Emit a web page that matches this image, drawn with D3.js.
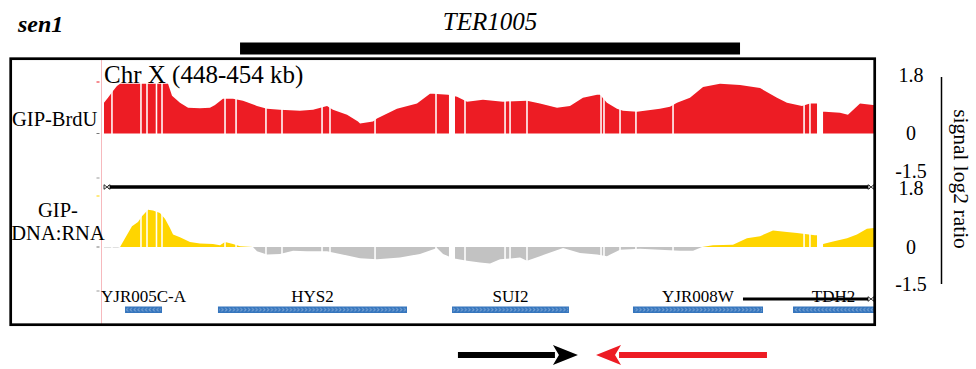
<!DOCTYPE html>
<html>
<head>
<meta charset="utf-8">
<script src="https://cdn.jsdelivr.net/npm/d3@7"></script>
<style>
  body { margin: 0; background: #fff; }
  svg { display: block; }
</style>
</head>
<body>
<svg id="chart" width="976" height="369"></svg>
<script>
// Genomic window (kb on chromosome X)
const windowKb = [448, 454];

// GIP-BrdU signal (log2 ratio) by position in kb
const brduPos = [448.000,448.031,448.070,448.101,448.125,448.499,448.530,448.592,448.655,448.748,448.826,448.865,448.927,449.005,449.083,449.192,449.270,449.371,449.527,449.629,449.738,449.784,449.894,449.979,449.995,450.096,450.127,450.283,450.439,450.540,450.564,450.681,450.751,450.829,450.953,451.109,451.296,451.397,451.530,451.631,451.732,451.842,451.865,451.919,451.997,452.044,452.153,452.332,452.410,452.465,452.566,452.668,452.800,452.956,453.112,453.244,453.322,453.439,453.501,453.556,453.603,453.618,453.735,453.797,453.891,453.992,454.000];
const brduVal = [0.95,1.10,1.31,1.46,1.53,1.53,1.16,0.95,0.79,0.78,0.79,0.88,1.07,1.07,1.01,0.85,0.76,0.73,0.70,0.73,0.85,0.73,0.58,0.37,0.31,0.37,0.46,0.76,0.92,1.22,1.22,1.19,1.13,0.98,1.04,0.98,1.01,0.92,0.79,0.85,1.10,1.19,1.19,0.95,0.76,0.70,0.67,0.76,0.82,0.95,1.10,1.43,1.53,1.49,1.40,1.10,0.95,0.85,0.92,0.92,0.67,0.67,0.64,0.58,0.92,0.88,0.88];

// GIP-DNA:RNA signal (log2 ratio) by position in kb
const rnaPos = [448.000,448.109,448.125,448.164,448.218,448.265,448.296,448.343,448.382,448.436,448.475,448.514,448.538,448.592,448.670,448.748,448.849,448.904,448.943,449.005,449.060,449.161,449.192,449.270,449.371,449.473,449.582,449.738,449.839,449.995,450.127,450.306,450.462,450.595,450.642,450.719,450.829,450.930,451.008,451.086,451.242,451.296,451.397,451.577,451.709,451.842,451.919,452.021,452.177,452.332,452.488,452.590,452.660,452.745,452.901,453.010,453.112,453.213,453.322,453.400,453.462,453.540,453.556,453.603,453.681,453.790,453.867,453.945,454.000];
const rnaVal = [-0.02,-0.02,0,0.27,0.63,0.76,0.94,1.14,1.11,1.04,0.86,0.58,0.38,0.30,0.15,0.11,0.09,0.05,0.15,0.09,0.02,0,-0.17,-0.30,-0.28,-0.15,-0.17,-0.17,-0.28,-0.46,-0.50,-0.43,-0.28,-0.04,-0.28,-0.46,-0.56,-0.63,-0.67,-0.50,-0.43,-0.56,-0.37,-0.04,-0.24,-0.30,-0.37,-0.11,-0.07,-0.11,-0.15,-0.15,0,0.05,0.07,0.27,0.33,0.50,0.46,0.43,0.40,0.36,0.36,0.09,0.17,0.27,0.38,0.56,0.58];

// Bins without data (kb intervals)
const missingBins = [[448.056,448.068],[448.282,448.294],[448.329,448.341],[448.403,448.415],[448.446,448.458],[448.937,448.949],[449.023,449.035],[449.256,449.268],[449.381,449.393],[449.693,449.705],[449.755,449.767],[450.106,450.118],[450.581,450.593],[450.688,450.735],[450.807,450.819],[451.119,451.131],[451.158,451.170],[451.290,451.302],[451.867,451.879],[451.890,451.902],[452.015,452.027],[452.139,452.151],[452.428,452.440],[453.449,453.461],[453.495,453.507],[453.556,453.603]];

// Gene annotation
const geneNames  = ["YJR005C-A", "HYS2", "SUI2", "YJR008W", "TDH2"];
const geneStart  = [448.164, 448.888, 450.712, 452.122, 453.369];
const geneEnd    = [448.452, 450.361, 451.623, 453.135, 454.300];
const geneStrand = ["-", "+", "+", "+", "-"];

// Termination zone and fork directions (kb)
const terName = "TER1005";
const terRegion = [449.060, 452.956];
const forkRight = [450.758, 451.693];
const forkLeft  = [453.166, 451.834];
const featureSpan = [452.979, 453.961];

// Track axis ticks
const tickValues = [1.8, 0, -1.5];
const tickLabels = ["1.8", "0", "-1.5"];

const serif = "'Liberation Serif', 'Times New Roman', Times, serif";
const RED = "#ed1c24", GOLD = "#ffd500", GREY = "#c2c2c2", BLUE = "#3575bd";

const svg = d3.select("#chart");
const x = d3.scaleLinear().domain(windowKb).range([104, 874]);
const yBrdu = d3.scaleLinear().domain([-1.5, 0, 1.8]).range([171, 133.5, 75]);
const yRna  = d3.scaleLinear().domain([-1.5, 0, 1.8]).range([284, 247, 188]);

// ---- header ----
svg.append("text").attr("x", 18).attr("y", 32)
  .attr("font-family", serif).attr("font-size", 24)
  .attr("font-weight", "bold").attr("font-style", "italic").text("sen1");

svg.append("text").attr("x", (x(terRegion[0]) + x(terRegion[1])) / 2).attr("y", 30)
  .attr("text-anchor", "middle").attr("font-family", serif)
  .attr("font-size", 25).attr("font-style", "italic").text(terName);

svg.append("rect").attr("x", x(terRegion[0])).attr("y", 42.5)
  .attr("width", x(terRegion[1]) - x(terRegion[0])).attr("height", 12).attr("fill", "#000");

// ---- frame ----
svg.append("line").attr("x1", 101.5).attr("x2", 101.5).attr("y1", 59).attr("y2", 324)
  .attr("stroke", "#f6b9bd").attr("stroke-width", 1);

// ---- BrdU track ----
const brdu = brduPos.map((p, i) => ({ p, v: brduVal[i] }));
svg.append("path").datum(brdu)
  .attr("fill", RED)
  .attr("d", d3.area().x(d => x(d.p)).y0(yBrdu(0)).y1(d => yBrdu(d.v)));

// ---- DNA:RNA track (gold above zero, grey below) ----
const rna = rnaPos.map((p, i) => ({ p, v: rnaVal[i] }));
svg.append("path").datum(rna).attr("fill", GREY)
  .attr("d", d3.area().x(d => x(d.p)).y0(yRna(0)).y1(d => yRna(Math.min(0, d.v))));
svg.append("path").datum(rna).attr("fill", GOLD)
  .attr("d", d3.area().x(d => x(d.p)).y0(yRna(0)).y1(d => yRna(Math.max(0, d.v))));

// empty bins punch through both tracks
const gapG = svg.append("g").attr("fill", "#fff");
[[72, 134.5], [192, 272]].forEach(([top, bot]) => {
  gapG.selectAll(null).data(missingBins).join("rect")
    .attr("x", d => x(d[0])).attr("width", d => x(d[1]) - x(d[0]))
    .attr("y", top).attr("height", bot - top);
});

// small data-range ticks at the left edge of each track
const leftTicks = svg.append("g");
[[yBrdu(1.8) + 7, RED], [yBrdu(0), "#777"], [yRna(1.8) - 10, "#999"], [yRna(1.8) + 8, GOLD], [yRna(0), "#777"], [yRna(-1.5) + 7, "#999"]]
  .forEach(([yy, c]) => leftTicks.append("line").attr("x1", 96.5).attr("x2", 99.5)
    .attr("y1", yy).attr("y2", yy).attr("stroke", c).attr("stroke-width", 1));

// end glyph for long spans
function endGlyph(cx, cy) {
  const g = svg.append("g").attr("fill", "#fff").attr("stroke", "#000").attr("stroke-width", 0.8);
  g.append("path").attr("d", `M${cx - 3},${cy - 2.3}L${cx},${cy}L${cx - 3},${cy + 2.3}Z`);
  g.append("path").attr("d", `M${cx + 3},${cy - 2.3}L${cx},${cy}L${cx + 3},${cy + 2.3}Z`);
}

// separator span between the tracks
svg.append("line").attr("x1", x(windowKb[0]) + 4).attr("x2", x(windowKb[1]) - 4)
  .attr("y1", 187).attr("y2", 187).attr("stroke", "#000").attr("stroke-width", 3.5);
endGlyph(x(windowKb[0]) + 3, 187);
endGlyph(x(windowKb[1]) - 3, 187);

// ---- genes ----
const defs = svg.append("defs");
const barY = 306.5, barH = 6.5;
[["chev-plus", "M1.1,1.5L2.7,3.25L1.1,5"], ["chev-minus", "M2.7,1.5L1.1,3.25L2.7,5"]].forEach(([id, d]) => {
  const p = defs.append("pattern").attr("id", id).attr("patternUnits", "userSpaceOnUse")
    .attr("x", 0).attr("y", barY).attr("width", 3.8).attr("height", barH);
  p.append("path").attr("d", d).attr("fill", "none").attr("stroke", "#dfeaf7").attr("stroke-width", 0.6);
});
defs.append("clipPath").attr("id", "view").append("rect")
  .attr("x", x(windowKb[0])).attr("y", 0).attr("width", x(windowKb[1]) - x(windowKb[0])).attr("height", 369);

const genes = geneNames.map((n, i) => ({ n, s: geneStart[i], e: geneEnd[i], strand: geneStrand[i] }));
const geneG = svg.append("g").attr("clip-path", "url(#view)");
geneG.selectAll("rect.bar").data(genes).join("rect").attr("class", "bar")
  .attr("x", d => x(d.s)).attr("width", d => x(d.e) - x(d.s))
  .attr("y", barY).attr("height", barH).attr("fill", BLUE);
geneG.selectAll("rect.chev").data(genes).join("rect").attr("class", "chev")
  .attr("x", d => x(d.s) + 1).attr("width", d => x(d.e) - x(d.s) - 2)
  .attr("y", barY).attr("height", barH)
  .attr("fill", d => d.strand === "+" ? "url(#chev-plus)" : "url(#chev-minus)");

svg.selectAll("text.gene").data(genes).join("text").attr("class", "gene")
  .attr("x", d => (x(d.s) + x(Math.min(d.e, windowKb[1]))) / 2)
  .attr("y", 302).attr("text-anchor", "middle")
  .attr("font-family", serif).attr("font-size", 17).text(d => d.n);

// feature span drawn across the gene row
svg.append("line").attr("x1", x(featureSpan[0])).attr("x2", x(featureSpan[1]))
  .attr("y1", 299).attr("y2", 299).attr("stroke", "#000").attr("stroke-width", 3);
endGlyph(x(windowKb[1]) - 3, 299);

// ---- frame border ----
svg.append("rect").attr("x", 10.7).attr("y", 58.7).attr("width", 864).attr("height", 266)
  .attr("fill", "none").attr("stroke", "#000").attr("stroke-width", 2.7);

// ---- track labels ----
svg.append("text").attr("x", 104).attr("y", 83)
  .attr("font-family", serif).attr("font-size", 25).text("Chr X (448-454 kb)");
svg.append("text").attr("x", 12).attr("y", 126)
  .attr("font-family", serif).attr("font-size", 20.5).text("GIP-BrdU");
const lab2 = svg.append("text").attr("font-family", serif).attr("font-size", 20.5).attr("text-anchor", "middle");
lab2.append("tspan").attr("x", 58).attr("y", 217).text("GIP-");
lab2.append("tspan").attr("x", 58).attr("y", 240).text("DNA:RNA");

// ---- right axes ----
[yBrdu, yRna].forEach(sc => {
  const g = svg.append("g").attr("transform", "translate(911,0)")
    .call(d3.axisRight(sc).tickValues(tickValues).tickFormat((d, i) => tickLabels[i]).tickSize(0).tickPadding(0));
  g.select(".domain").remove();
  g.attr("font-family", serif).attr("font-size", 20);
  g.selectAll("text").attr("x", 0).attr("text-anchor", "middle").attr("fill", "#000");
});
svg.append("line").attr("x1", 941.5).attr("x2", 941.5).attr("y1", 77).attr("y2", 284)
  .attr("stroke", "#000").attr("stroke-width", 1.5);
svg.append("text").attr("transform", "translate(954,179) rotate(90)")
  .attr("text-anchor", "middle").attr("font-family", serif).attr("font-size", 21.5)
  .text("signal log2 ratio");

// ---- replication fork arrows ----
function arrow(span, color) {
  const x0 = x(span[0]), x1 = x(span[1]);
  const dir = Math.sign(x1 - x0), head = 25, yy = 355;
  svg.append("line").attr("x1", x0).attr("x2", x1 - dir * head + dir * 2)
    .attr("y1", yy).attr("y2", yy).attr("stroke", color).attr("stroke-width", 6);
  svg.append("path").attr("fill", color)
    .attr("d", `M${x1},${yy}L${x1 - dir * head},${yy - 10}L${x1 - dir * (head - 6)},${yy}L${x1 - dir * head},${yy + 10}Z`);
}
arrow(forkRight, "#000");
arrow(forkLeft, RED);
</script>
</body>
</html>
